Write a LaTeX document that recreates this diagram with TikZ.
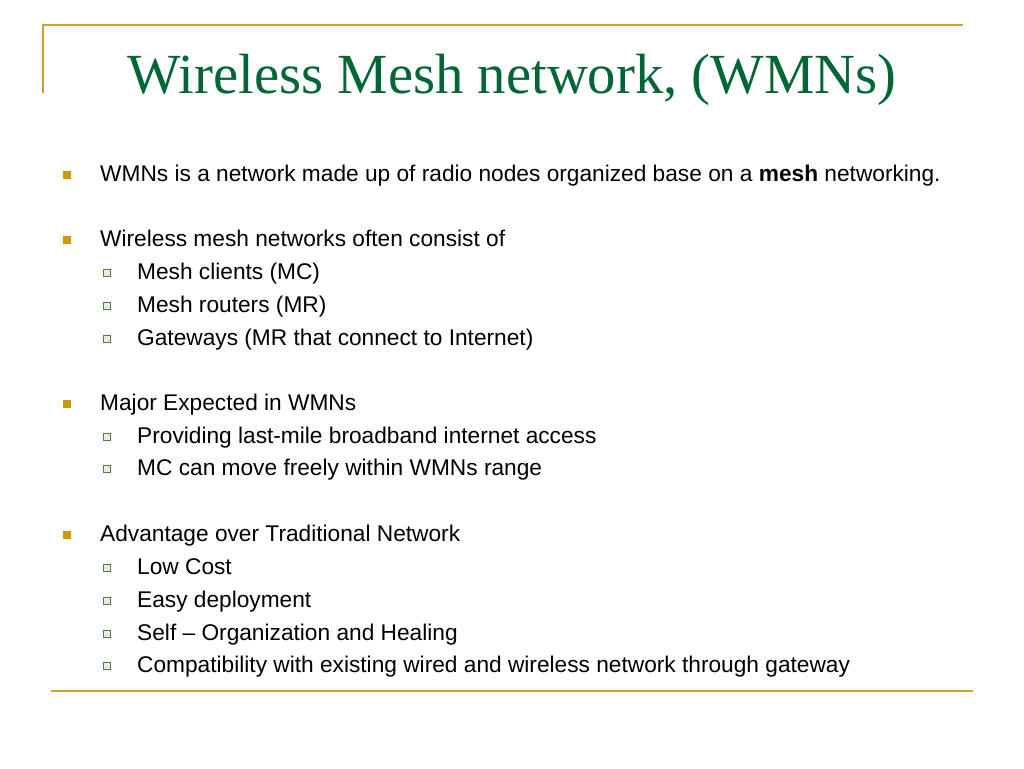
\documentclass[tikz,border=0pt]{standalone}
\usepackage{fontspec}
\setmainfont{Liberation Sans}
\newfontfamily\titlefont{Liberation Serif}
\usepackage{xcolor}
\definecolor{framegold}{RGB}{210,160,40}
\definecolor{bulletgold}{RGB}{204,153,0}
\definecolor{titlegreen}{RGB}{0,102,51}
\definecolor{boxgreen}{RGB}{90,120,80}
\definecolor{boxfill}{RGB}{228,238,220}

\begin{document}
\begin{tikzpicture}[x=1pt, y=-1pt,
    mainbullet/.style={rectangle, fill=bulletgold, inner sep=0pt, minimum size=8pt},
    subbullet/.style={rectangle, draw=boxgreen, fill=boxfill, line width=1pt, inner sep=0pt, minimum size=7pt},
    maintext/.style={anchor=base west, inner sep=0pt, font=\fontsize{22.7}{27}\selectfont},
    subtext/.style={anchor=base west, inner sep=0pt, font=\fontsize{22.7}{27}\selectfont},
    frameline/.style={draw=framegold, line width=2.8pt}]
  \useasboundingbox (0, 0) rectangle (1024, 768);

  % frame
  \coordinate (ftl) at (43, 25);
  \coordinate (ftr) at (963, 25);
  \coordinate (fbl) at (43, 93);
  \coordinate (bl) at (51, 691);
  \coordinate (br) at (973, 691);
  \draw[frameline] (fbl) -- (ftl) -- (ftr);
  \draw[frameline] (bl) -- (br);

  % title
  \node[anchor=base, inner sep=0pt, text=titlegreen, font=\titlefont\fontsize{56.7}{62}\selectfont] (title) at (512, 93) {Wireless Mesh network, (WMNs)};

  % first bullet
  \node[mainbullet] (b1) at (67, 174.5) {};
  \node[maintext] (t1) at (100, 181) {WMNs is a network made up of radio nodes organized base on a \textbf{mesh} networking.};

  % second bullet
  \node[mainbullet] (b2) at (67, 239.5) {};
  \node[maintext] (t2) at (100, 246) {Wireless mesh networks often consist of};
  \node[subbullet] (s21) at (107, 273) {};
  \node[subtext] (t21) at (137, 279) {Mesh clients (MC)};
  \node[subbullet] (s22) at (107, 306) {};
  \node[subtext] (t22) at (137, 312) {Mesh routers (MR)};
  \node[subbullet] (s23) at (107, 339) {};
  \node[subtext] (t23) at (137, 345) {Gateways (MR that connect to Internet)};

  % third bullet
  \node[mainbullet] (b3) at (67, 403.5) {};
  \node[maintext] (t3) at (100, 410) {Major Expected in WMNs};
  \node[subbullet] (s31) at (107, 437) {};
  \node[subtext] (t31) at (137, 443) {Providing last-mile broadband internet access};
  \node[subbullet] (s32) at (107, 469) {};
  \node[subtext] (t32) at (137, 475) {MC can move freely within WMNs range};

  % fourth bullet
  \node[mainbullet] (b4) at (67, 535) {};
  \node[maintext] (t4) at (100, 541.5) {Advantage over Traditional Network};
  \node[subbullet] (s41) at (107, 568) {};
  \node[subtext] (t41) at (137, 574) {Low Cost};
  \node[subbullet] (s42) at (107, 601) {};
  \node[subtext] (t42) at (137, 607) {Easy deployment};
  \node[subbullet] (s43) at (107, 634) {};
  \node[subtext] (t43) at (137, 640) {Self -- Organization and Healing};
  \node[subbullet] (s44) at (107, 666) {};
  \node[subtext] (t44) at (137, 672) {Compatibility with existing wired and wireless network through gateway};
\end{tikzpicture}
\end{document}
